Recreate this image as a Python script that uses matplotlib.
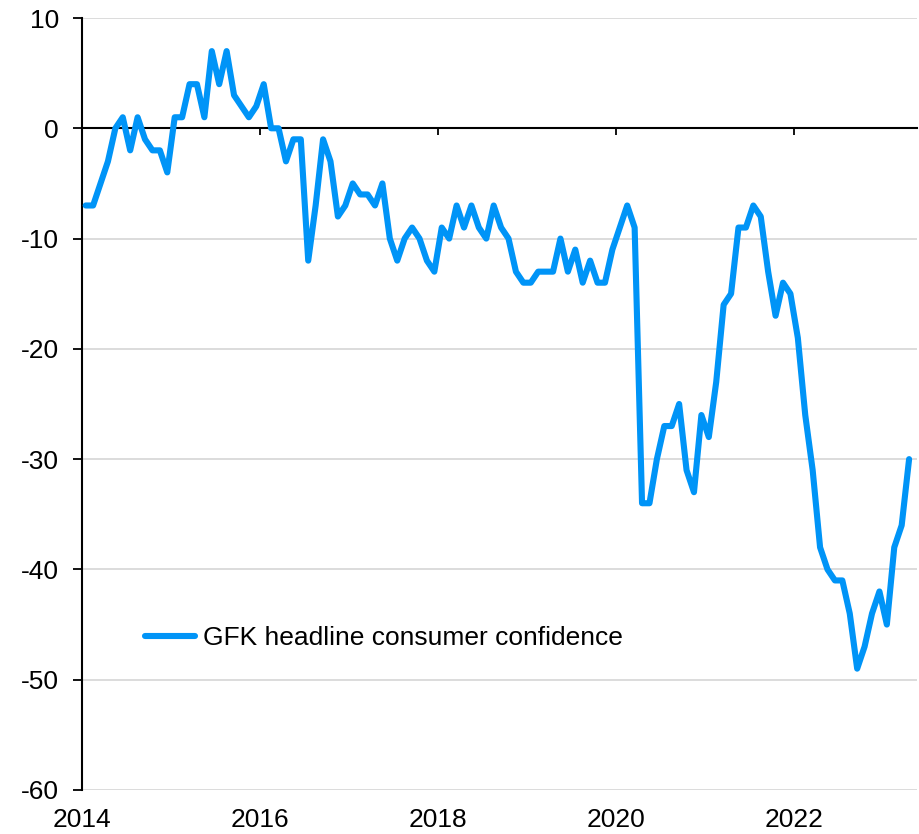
import numpy as np
import pandas as pd
import matplotlib
matplotlib.use('Agg')
import matplotlib.pyplot as plt

# GfK headline consumer confidence, monthly from Jan 2014
gfk = [-7, -7, -5, -3, 0, 1, -2, 1, -1, -2, -2, -4,
       1, 1, 4, 4, 1, 7, 4, 7, 3, 2, 1, 2,
       4, 0, 0, -3, -1, -1, -12, -7, -1, -3, -8, -7,
       -5, -6, -6, -7, -5, -10, -12, -10, -9, -10, -12, -13,
       -9, -10, -7, -9, -7, -9, -10, -7, -9, -10, -13, -14,
       -14, -13, -13, -13, -10, -13, -11, -14, -12, -14, -14, -11,
       -9, -7, -9, -34, -34, -30, -27, -27, -25, -31, -33, -26,
       -28, -23, -16, -15, -9, -9, -7, -8, -13, -17, -14, -15,
       -19, -26, -31, -38, -40, -41, -41, -44, -49, -47, -44, -42,
       -45, -38, -36, -30]

months = pd.date_range('2014-01-01', periods=len(gfk), freq='MS')
# plot at mid-month as decimal years
xs = months.year + (months.month - 0.5) / 12

xticks = [2014, 2016, 2018, 2020, 2022]
yticks = [10, 0, -10, -20, -30, -40, -50, -60]

plt.rcParams['font.family'] = ['Liberation Sans', 'DejaVu Sans']
plt.rcParams['axes.unicode_minus'] = False

fig = plt.figure(figsize=(9.2, 8.34), dpi=100)
ax = fig.add_axes([0.0891, 0.0528, 0.9076, 0.9256])

ax.plot(xs, gfk, color='#0094F7', lw=4.4, solid_capstyle='round',
        solid_joinstyle='round', zorder=3,
        label='GFK headline consumer confidence')

ax.set_xlim(2014, 2023.38)
ax.set_ylim(-60, 10)
ax.set_yticks(yticks)
ax.set_xticks(xticks)

ax.grid(axis='y', color='#d9d9d9', lw=1.3)
ax.set_axisbelow(True)

for s in ['top', 'right']:
    ax.spines[s].set_visible(False)
ax.spines['left'].set_linewidth(1.5)
ax.spines['bottom'].set_position(('data', 0))
ax.spines['bottom'].set_linewidth(1.5)

ax.tick_params(axis='y', direction='out', length=6.5, width=1.3,
               labelsize=19, pad=10)
ax.tick_params(axis='x', direction='out', length=5, width=1.3,
               labelbottom=False)

# year labels sit under the plot, below -60
sec = ax.secondary_xaxis('bottom')
sec.set_xticks(xticks)
sec.tick_params(length=0, labelsize=19, pad=13)
sec.spines['bottom'].set_visible(False)

ax.legend(loc='center left', bbox_to_anchor=(0.047, 0.197), frameon=False,
          fontsize=19, handlelength=1.9, handletextpad=0.3)

plt.savefig('out.png', dpi=100)
